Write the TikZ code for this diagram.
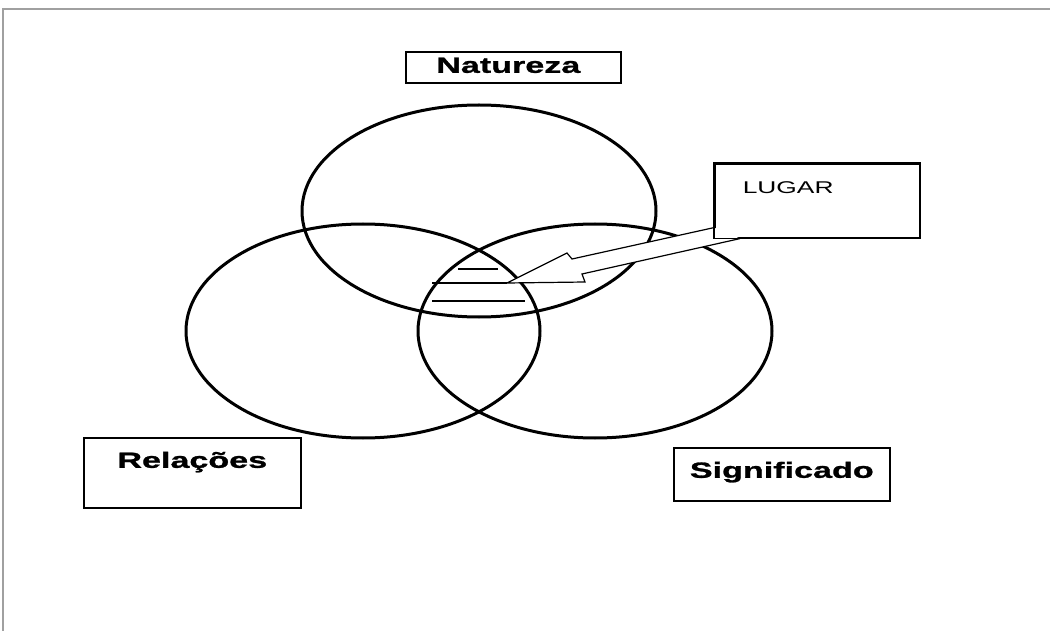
\documentclass[tikz,border=0pt]{standalone}
\usepackage{fontspec}
\setmainfont{Liberation Sans}
\newfontfamily\widefont[FakeStretch=1.55,BoldFeatures={FakeBold=1.2}]{Liberation Sans}
\usetikzlibrary{positioning,calc}
\definecolor{framegray}{RGB}{160,160,160}
\tikzset{
	box base/.style={draw, rectangle, line width=1.6pt, fill=white, inner sep=0pt, anchor=north west},
	set base/.style={line width=3pt},
}

\begin{document}
\begin{tikzpicture}[x=1pt,y=-1pt]
	\useasboundingbox (0,0) rectangle (1050,631);
	% Frame of the page
	\draw[line width=2pt,framegray] (3,631) -- (3,9) -- (1050,9);

	% The three sets
	\draw[set base] (479,211) ellipse [x radius=177,y radius=106];
	\draw[set base] (363,331) ellipse [x radius=177,y radius=107];
	\draw[set base] (595,331) ellipse [x radius=177,y radius=107];

	% Hatching of the common part
	\draw[line width=1.4pt] (458,269) -- (498,269);
	\draw[line width=1.4pt] (432,283) -- (507,283);
	\draw[line width=1.4pt] (432,301) -- (525,301);

	% Boxes
	\node [box base,minimum width=215pt,text height=21pt,text depth=10pt] (natureza) at (405,51) {\widefont\bfseries\fontsize{22}{22}\selectfont Natureza\hspace*{10pt}};
	\node [box base,minimum width=205pt,text width=149pt,align=left,inner xsep=28pt,text height=30pt,text depth=44pt] (lugar) at (714,163) {\widefont\fontsize{17}{17}\selectfont LUGAR};
	\node [box base,minimum width=217pt,text height=30pt,text depth=40pt] (relacoes) at (83,437) {\widefont\bfseries\fontsize{22}{22}\selectfont Relações};
	\node [box base,minimum width=216pt,text height=30pt,text depth=23pt] (significado) at (673,447) {\widefont\bfseries\fontsize{22}{22}\selectfont Significado};

	% Arrow from LUGAR into the common part
	\coordinate (tip) at (507,283);
	\filldraw[fill=white,line width=1.2pt] ($(lugar.south west)+(0,-11)$) -- (572,259) -- (567,253) -- (tip) -- (585,282) -- (582,274) -- ($(lugar.south west)+(26,0)$);
	\draw[line width=1.6pt] (lugar.south west) -- (lugar.north west) -- (lugar.north east) -- (lugar.south east) -- cycle;
\end{tikzpicture}
\end{document}
